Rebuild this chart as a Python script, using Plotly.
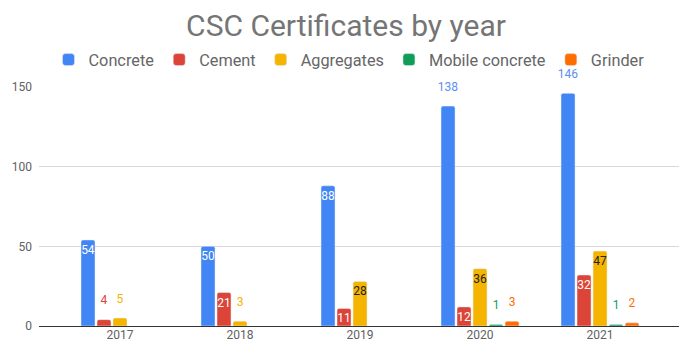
import plotly.graph_objects as go

years = ["2017", "2018", "2019", "2020", "2021"]
series_names = ["Concrete", "Cement", "Aggregates", "Mobile concrete", "Grinder"]
concrete = [54, 50, 88, 138, 146]
cement = [4, 21, 11, 12, 32]
aggregates = [5, 3, 28, 36, 47]
mobile_concrete = [None, None, None, 1, 1]
grinder = [None, None, None, 3, 2]
y_ticks = [0, 50, 100, 150]

values = [concrete, cement, aggregates, mobile_concrete, grinder]
colors = ["#4285F4", "#DB4437", "#F4B400", "#0F9D58", "#FF6D00"]
out_colors = ["#5b8ff0", "#DB4437", "#F4B400", "#0F9D58", "#FF6D00"]
in_colors = ["#ffffff", "#ffffff", "#222222", "#ffffff", "#ffffff"]
# which points are labelled inside the bar
inside_flags = [
    [True, True, True, False, False],
    [False, True, True, True, True],
    [False, False, True, True, True],
    [False] * 5,
    [False] * 5,
]

# the page body has an 8px default margin; size the figure to fit the window
W, H = 686, 351

fig = go.Figure()
for name, vals, col, oc, ic, flags in zip(series_names, values, colors, out_colors, in_colors, inside_flags):
    texts, pos = [], []
    for v, f in zip(vals, flags):
        if v is None:
            texts.append("")
            pos.append("none")
        elif f:
            texts.append(f"<span style='font-size:12px'>{v}</span>")
            pos.append("inside")
        else:
            texts.append(f"<span style='font-size:12px'>{v}</span><br> ")
            pos.append("outside")
    fig.add_trace(go.Bar(
        name=name, x=years, y=vals, marker=dict(color=col, cornerradius=2),
        text=texts, textposition=pos, insidetextanchor="end",
        insidetextfont=dict(color=ic, size=12, family="Roboto"),
        outsidetextfont=dict(color=oc, size=8, family="Roboto"),
        constraintext="none", cliponaxis=False, hoverinfo="skip",
    ))

fig.update_layout(
    width=W, height=H,
    margin=dict(l=31, r=15, t=79, b=33, autoexpand=False),
    paper_bgcolor="white", plot_bgcolor="white",
    font=dict(family="Roboto", color="#616161"),
    title=dict(text="CSC Certificates by year", x=338 / W, xanchor="center",
               xref="container", y=1 - 17 / H, yanchor="middle", yref="container",
               font=dict(size=30, color="#757575", family="Roboto")),
    legend=dict(orientation="h", x=341 / W, xanchor="center", xref="container",
                yref="container", y=1 - 52 / H, yanchor="middle",
                bgcolor="rgba(0,0,0,0)",
                font=dict(size=16.3, color="#666666"), itemwidth=30,
                traceorder="normal"),
    barmode="group", bargap=1 / 3, bargroupgap=0.125,
    xaxis=dict(type="category", range=[-0.675, 4.658], showgrid=False,
               tickfont=dict(size=12, color="#616161"), ticks="",
               showline=False),
    yaxis=dict(range=[0, 150], tickvals=y_ticks, showgrid=True,
               gridcolor="#d9d9d9", zeroline=True, zerolinecolor="#333333",
               zerolinewidth=1, tickfont=dict(size=12, color="#616161"),
               ticklabelstandoff=6),
    showlegend=True,
)
fig.write_html("out.html")
